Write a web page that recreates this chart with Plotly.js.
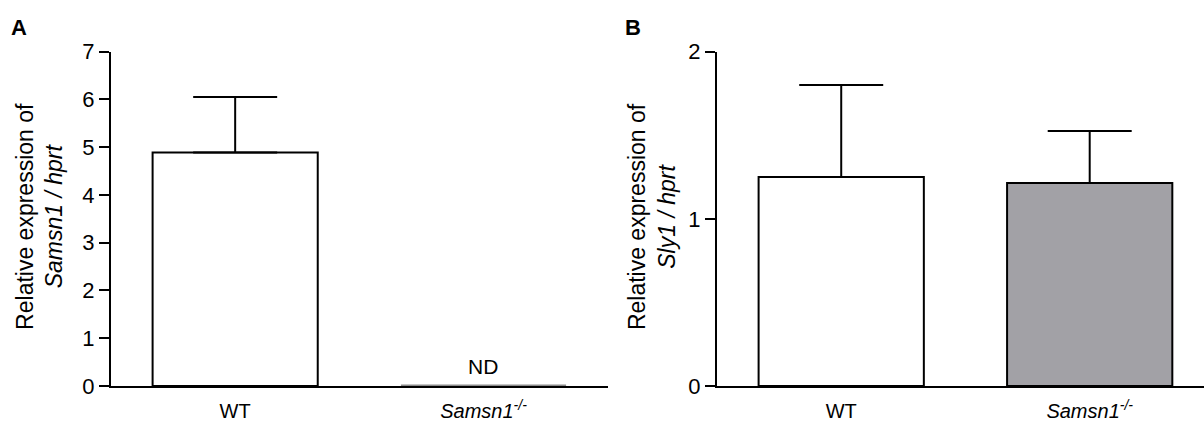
<!DOCTYPE html>
<html>
<head>
<meta charset="utf-8">
<script src="https://cdn.plot.ly/plotly-3.0.1.min.js"></script>
<style>html,body{margin:0;padding:0;background:#fff;}#chart{width:1204px;height:423px;}</style>
</head>
<body>
<div id="chart"></div>
<script>
// ---- data ----
const categories = ['WT', '<i>Samsn1<sup>-/-</sup></i>'];
const samsn1Mean = [4.89, 0];
const samsn1Err = [1.16, 0];
const samsn1Detected = [true, false];
const sly1Mean = [1.25, 1.215];
const sly1Err = [0.55, 0.31];
const panelLabels = ['A', 'B'];
const yTitles = ['Relative expression of<br><i>Samsn1 / hprt</i>', 'Relative expression of<br><i>Sly1 / hprt</i>'];

// ---- style ----
const FONT = 'Liberation Sans, Arial, sans-serif';
const BARW = 0.665;
const xpos = categories.map((c, i) => i);

const detIdx = xpos.filter((p, i) => samsn1Detected[i]);
const ndIdx = xpos.filter((p, i) => !samsn1Detected[i]);

const traces = [
  // ND (not detected) bars drawn as a flat gray outline at zero
  ...ndIdx.map(i => ({
    type: 'scatter', mode: 'lines', x: [i - BARW / 2, i + BARW / 2], y: [samsn1Mean[i], samsn1Mean[i]],
    line: {color: '#8c8c8c', width: 3}, xaxis: 'x', yaxis: 'y', showlegend: false, hoverinfo: 'skip', cliponaxis: false
  })),
  {
    type: 'bar', x: detIdx, y: detIdx.map(i => samsn1Mean[i]), width: BARW,
    marker: {color: '#ffffff', line: {color: '#000', width: 2}},
    error_y: {type: 'data', array: detIdx.map(i => samsn1Err[i]), arrayminus: detIdx.map(() => 0), symmetric: false, color: '#000', thickness: 2, width: 42},
    xaxis: 'x', yaxis: 'y', showlegend: false, hoverinfo: 'skip'
  },
  {
    type: 'bar', x: xpos, y: sly1Mean, width: BARW,
    marker: {color: ['#ffffff', '#a2a1a6'], line: {color: '#000', width: 2}},
    error_y: {type: 'data', array: sly1Err, arrayminus: sly1Err.map(() => 0), symmetric: false, color: '#000', thickness: 2, width: 42},
    xaxis: 'x2', yaxis: 'y2', showlegend: false, hoverinfo: 'skip'
  }
];

const yDomain = [0.0875, 0.8778];
function xAxis(domain, range) {
  return {
    domain: domain, range: range, tickvals: xpos, ticktext: categories,
    showline: true, linewidth: 2, linecolor: '#000', showgrid: false, zeroline: false,
    ticks: 'outside', ticklen: 6, tickcolor: 'rgba(0,0,0,0)',
    tickfont: {family: FONT, size: 20, color: '#000'}, automargin: false, fixedrange: true
  };
}
function yAxis(range, anchor) {
  return {
    domain: yDomain, range: range, dtick: 1, anchor: anchor,
    showline: true, linewidth: 2, linecolor: '#000', showgrid: false, zeroline: false,
    ticks: 'outside', ticklen: 10, tickwidth: 2, tickcolor: '#000',
    tickfont: {family: FONT, size: 22, color: '#000'},
    automargin: false, fixedrange: true
  };
}

const titleFont = {family: FONT, size: 23, color: '#000'};
const layout = {
  width: 1204, height: 423,
  margin: {l: 0, r: 0, t: 0, b: 0},
  paper_bgcolor: '#fff', plot_bgcolor: 'rgba(0,0,0,0)',
  font: {family: FONT, color: '#000'},
  xaxis: Object.assign(xAxis([0.0922, 0.5047], [-0.5, 1.5]), {anchor: 'y'}),
  yaxis: yAxis([0, 7], 'x'),
  xaxis2: Object.assign(xAxis([0.5955, 1], [-0.5, 1.46]), {anchor: 'y2'}),
  yaxis2: yAxis([0, 2], 'x2'),
  annotations: [
    ...ndIdx.map(i => ({x: i, y: 0, xref: 'x', yref: 'y', text: 'ND', showarrow: false, yanchor: 'bottom', yshift: 6, font: {family: FONT, size: 21, color: '#000'}})),
    {x: 0.033, y: 0.489, xref: 'paper', yref: 'paper', text: yTitles[0], textangle: -90, showarrow: false, xanchor: 'center', yanchor: 'middle', font: titleFont},
    {x: 0.5415, y: 0.489, xref: 'paper', yref: 'paper', text: yTitles[1], textangle: -90, showarrow: false, xanchor: 'center', yanchor: 'middle', font: titleFont},
    {x: 0.016, y: 0.934, xref: 'paper', yref: 'paper', text: '<b>' + panelLabels[0] + '</b>', showarrow: false, xanchor: 'center', yanchor: 'middle', font: {family: FONT, size: 22, color: '#000'}},
    {x: 0.5257, y: 0.934, xref: 'paper', yref: 'paper', text: '<b>' + panelLabels[1] + '</b>', showarrow: false, xanchor: 'center', yanchor: 'middle', font: {family: FONT, size: 22, color: '#000'}}
  ]
};

Plotly.newPlot('chart', traces, layout, {displayModeBar: false, staticPlot: true});
</script>
</body>
</html>
